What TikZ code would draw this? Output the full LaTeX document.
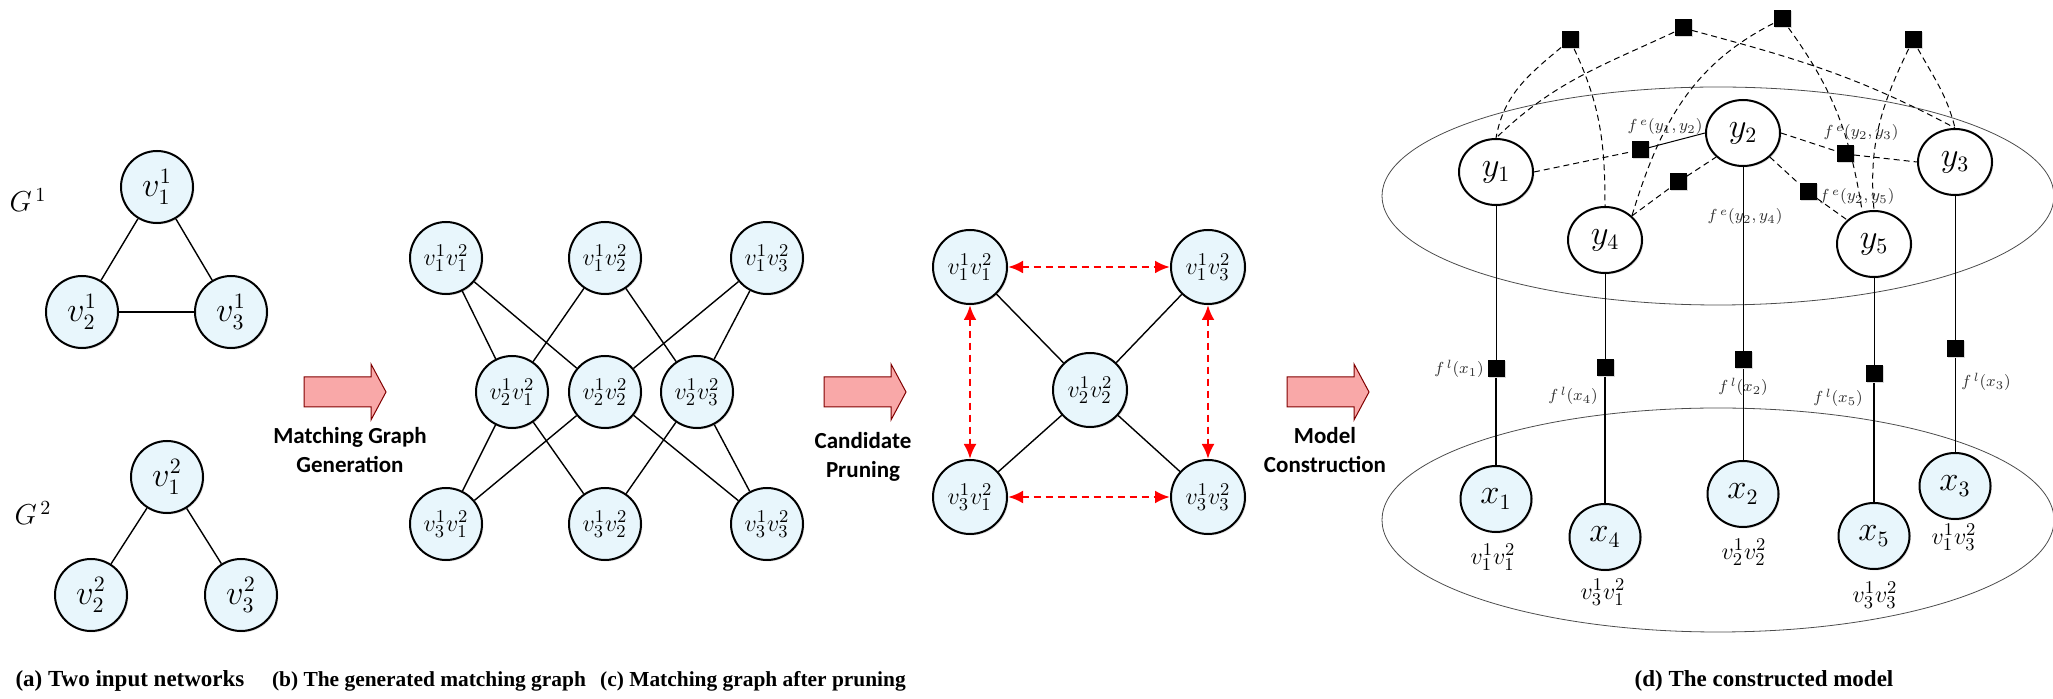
\documentclass[tikz,border=0pt]{standalone}
\usepackage{fontspec}
\setmainfont{Liberation Serif}
\newfontfamily\stepfont{Carlito}
\usetikzlibrary{positioning, arrows.meta, shapes.geometric, shadows}
\usepackage{xcolor}
\definecolor{nodeblue}{RGB}{232,246,252}
\definecolor{arrowpink}{RGB}{249,168,168}

\begin{document}
\begin{tikzpicture}[
                x=0.5pt, y=-0.5pt,
                >={Latex[width=6.5pt,length=7.5pt]},
                vnode/.style={circle, draw, line width=1pt, fill=nodeblue, minimum size=36pt, inner sep=0pt,
                    drop shadow={opacity=0.25, shadow xshift=0.7pt, shadow yshift=-0.7pt}, font=\fontsize{16}{18}\selectfont},
                pnode/.style={vnode, font=\fontsize{13}{15}\selectfont},
                ynode/.style={ellipse, draw, line width=1pt, fill=white, minimum width=37pt, minimum height=33pt, inner sep=0pt,
                    drop shadow={opacity=0.25, shadow xshift=0.7pt, shadow yshift=-0.7pt}, font=\fontsize{16}{18}\selectfont},
                xnode/.style={ynode, fill=nodeblue, minimum width=35.5pt},
                factor/.style={rectangle, fill=black, minimum size=8.5pt, inner sep=0pt,
                    drop shadow={opacity=0.3, shadow xshift=0.5pt, shadow yshift=-0.5pt}},
                edge/.style={draw, line width=0.7pt},
                thinedge/.style={draw, line width=0.5pt},
                link/.style={draw, line width=0.5pt, dash pattern=on 3pt off 2pt},
                prune/.style={draw=red, <->, line width=1.4pt, dash pattern=on 3.5pt off 2.5pt},
                layer/.style={draw=black!70, line width=0.4pt},
                flabel/.style={font=\fontsize{8.5}{10}\selectfont, text=black!80, inner sep=1pt},
                plabel/.style={font=\fontsize{13}{15}\selectfont, inner sep=1pt},
                glabel/.style={font=\fontsize{14}{16}\selectfont},
                steplabel/.style={align=center, font=\stepfont\bfseries\fontsize{11.5}{14.5}\selectfont},
                caption/.style={font=\bfseries\fontsize{11.5}{14}\selectfont},
                blockarrow/.style={draw=black!50!red, fill=arrowpink, line width=0.5pt},
                pinkarrow/.pic={\draw[blockarrow] (0,-15) -- (67,-15) -- (67,-28) -- (82,0) -- (67,28) -- (67,15) -- (0,15) -- cycle;},
                ]
        \useasboundingbox (0,0) rectangle (2053,699);

        % (a) two input networks
        \node [glabel] (g1) at (28,200) {$G^{\,1}$};
        \node [vnode] (a11) at (157,187) {$v_1^1$};
        \node [vnode] (a21) at (82,312) {$v_2^1$};
        \node [vnode] (a31) at (231,312) {$v_3^1$};
        \node [glabel] (g2) at (33,513) {$G^{\,2}$};
        \node [vnode] (a12) at (167,477) {$v_1^2$};
        \node [vnode] (a22) at (91,595) {$v_2^2$};
        \node [vnode] (a32) at (241,595) {$v_3^2$};

        \draw[edge] (a11) -- (a21);
        \draw[edge] (a11) -- (a31);
        \draw[edge] (a21) -- (a31);
        \draw[edge] (a12) -- (a22);
        \draw[edge] (a12) -- (a32);

        \pic at (304,392) {pinkarrow};
        \node [steplabel] (stepA) at (350,450) {Matching Graph\\Generation};

        % (b) matching graph
        \node [pnode] (b11) at (446,258) {$v_1^1v_1^2$};
        \node [pnode] (b12) at (605,258) {$v_1^1v_2^2$};
        \node [pnode] (b13) at (767,258) {$v_1^1v_3^2$};
        \node [pnode] (b21) at (512,392) {$v_2^1v_1^2$};
        \node [pnode] (b22) at (605,392) {$v_2^1v_2^2$};
        \node [pnode] (b23) at (697,392) {$v_2^1v_3^2$};
        \node [pnode] (b31) at (446,524) {$v_3^1v_1^2$};
        \node [pnode] (b32) at (605,524) {$v_3^1v_2^2$};
        \node [pnode] (b33) at (767,524) {$v_3^1v_3^2$};

        \draw[edge] (b11) -- (b21);
        \draw[edge] (b11) -- (b22);
        \draw[edge] (b12) -- (b21);
        \draw[edge] (b12) -- (b23);
        \draw[edge] (b13) -- (b22);
        \draw[edge] (b13) -- (b23);
        \draw[edge] (b31) -- (b21);
        \draw[edge] (b31) -- (b22);
        \draw[edge] (b32) -- (b21);
        \draw[edge] (b32) -- (b23);
        \draw[edge] (b33) -- (b22);
        \draw[edge] (b33) -- (b23);

        \pic at (824,392) {pinkarrow};
        \node [steplabel] (stepB) at (863,457) {Candidate\\Pruning};

        % (c) after pruning
        \node [pnode, minimum size=37pt] (c11) at (970,267) {$v_1^1v_1^2$};
        \node [pnode, minimum size=37pt] (c13) at (1208,267) {$v_1^1v_3^2$};
        \node [pnode, minimum size=37pt] (c22) at (1090,390) {$v_2^1v_2^2$};
        \node [pnode, minimum size=37pt] (c31) at (970,497) {$v_3^1v_1^2$};
        \node [pnode, minimum size=37pt] (c33) at (1208,497) {$v_3^1v_3^2$};

        \draw[edge] (c11) -- (c22);
        \draw[edge] (c13) -- (c22);
        \draw[edge] (c31) -- (c22);
        \draw[edge] (c33) -- (c22);
        \draw[prune] (c11) -- (c13);
        \draw[prune] (c31) -- (c33);
        \draw[prune] (c11) -- (c31);
        \draw[prune] (c13) -- (c33);

        \pic at (1287,392) {pinkarrow};
        \node [steplabel] (stepC) at (1325,450) {Model\\Construction};

        % (d) constructed model
        \draw[layer] (1718,196) ellipse [x radius=336, y radius=109];
        \draw[layer] (1718,520) ellipse [x radius=336, y radius=112];

        \node [ynode] (y1) at (1496,172) {$y_1$};
        \node [ynode] (y2) at (1743,133) {$y_2$};
        \node [ynode] (y3) at (1955,162) {$y_3$};
        \node [ynode] (y4) at (1605,240) {$y_4$};
        \node [ynode] (y5) at (1874,244) {$y_5$};

        \node [xnode] (x1) at (1496,499) {$x_1$};
        \node [xnode] (x4) at (1605,537) {$x_4$};
        \node [xnode] (x2) at (1743,494) {$x_2$};
        \node [xnode] (x5) at (1874,536) {$x_5$};
        \node [xnode] (x3) at (1955,486) {$x_3$};

        \node [plabel] (m1) at (1493,557) {$v_1^1v_1^2$};
        \node [plabel] (m4) at (1603,592) {$v_3^1v_1^2$};
        \node [plabel] (m2) at (1744,552) {$v_2^1v_2^2$};
        \node [plabel] (m5) at (1875,595) {$v_3^1v_3^2$};
        \node [plabel] (m3) at (1954,537) {$v_1^1v_3^2$};

        \node [factor] (fl1) at (1496,369) {};
        \node [factor] (fl4) at (1605,368) {};
        \node [factor] (fl2) at (1743,360) {};
        \node [factor] (fl5) at (1874,374) {};
        \node [factor] (fl3) at (1955,349) {};

        \node [flabel] (lfl1) at (1459,369) {$f^{\,l}(x_1)$};
        \node [flabel] (lfl4) at (1573,396) {$f^{\,l}(x_4)$};
        \node [flabel] (lfl2) at (1743,387) {$f^{\,l}(x_2)$};
        \node [flabel] (lfl5) at (1838,398) {$f^{\,l}(x_5)$};
        \node [flabel] (lfl3) at (1986,382) {$f^{\,l}(x_3)$};

        \node [factor] (fe12) at (1640,150) {};
        \node [factor] (fe24) at (1678,182) {};
        \node [factor] (fe23) at (1845,154) {};
        \node [factor] (fe25) at (1808,192) {};

        \node [flabel] (lfe12) at (1665,127) {$f^{\,e}(y_1,y_2)$};
        \node [flabel] (lfe24) at (1745,217) {$f^{\,e}(y_2,y_4)$};
        \node [flabel] (lfe23) at (1861,133) {$f^{\,e}(y_2,y_3)$};
        \node [flabel] (lfe25) at (1857,197) {$f^{\,e}(y_2,y_5)$};

        \node [factor] (t14) at (1570,40) {};
        \node [factor] (t13) at (1683,28) {};
        \node [factor] (t45) at (1782,19) {};
        \node [factor] (t53) at (1913,40) {};

        % unary factors
        \draw[thinedge] (y1) -- (fl1);
        \draw[edge] (fl1) -- (x1);
        \draw[thinedge] (y4) -- (fl4);
        \draw[edge] (fl4) -- (x4);
        \draw[thinedge] (y2) -- (fl2);
        \draw[thinedge] (fl2) -- (x2);
        \draw[thinedge] (y5) -- (fl5);
        \draw[edge] (fl5) -- (x5);
        \draw[thinedge] (y3) -- (fl3);
        \draw[thinedge] (fl3) -- (x3);

        % pairwise factors
        \draw[link] (y1.east) -- (fe12);
        \draw[thinedge] (fe12) -- (y2.west);
        \draw[link] (y4.north east) -- (fe24);
        \draw[link] (fe24) -- (y2.south west);
        \draw[link] (y2.east) -- (fe23);
        \draw[link] (fe23) -- (y3.west);
        \draw[link] (y2.south east) -- (fe25);
        \draw[link] (fe25) -- (y5.north west);

        \draw[link] (t14) to[out=220, in=80] (y1.north);
        \draw[link] (t14) to[out=-65, in=90] (y4.north);
        \draw[link] (t13) to[out=205, in=44] (y1.north);
        \draw[link] (t13) to[out=-15, in=152] (y3.north);
        \draw[link] (t45) to[out=207, in=73] (y4.north east);
        \draw[link] (t45) to[out=-54, in=99] (y5.110);
        \draw[link] (t53) to[out=244, in=95] (y5.north);
        \draw[link] (t53) to[out=-61, in=104] (y3.north);

        % captions
        \node [caption] (capA) at (130,681) {(a) Two input networks};
        \node [caption, font=\bfseries\fontsize{10.7}{14}\selectfont] (capB) at (429,681) {(b) The generated matching graph};
        \node [caption, font=\bfseries\fontsize{10.7}{14}\selectfont] (capC) at (753,681) {(c) Matching graph after pruning};
        \node [caption] (capD) at (1764,681) {(d) The constructed model};

\end{tikzpicture}
\end{document}
